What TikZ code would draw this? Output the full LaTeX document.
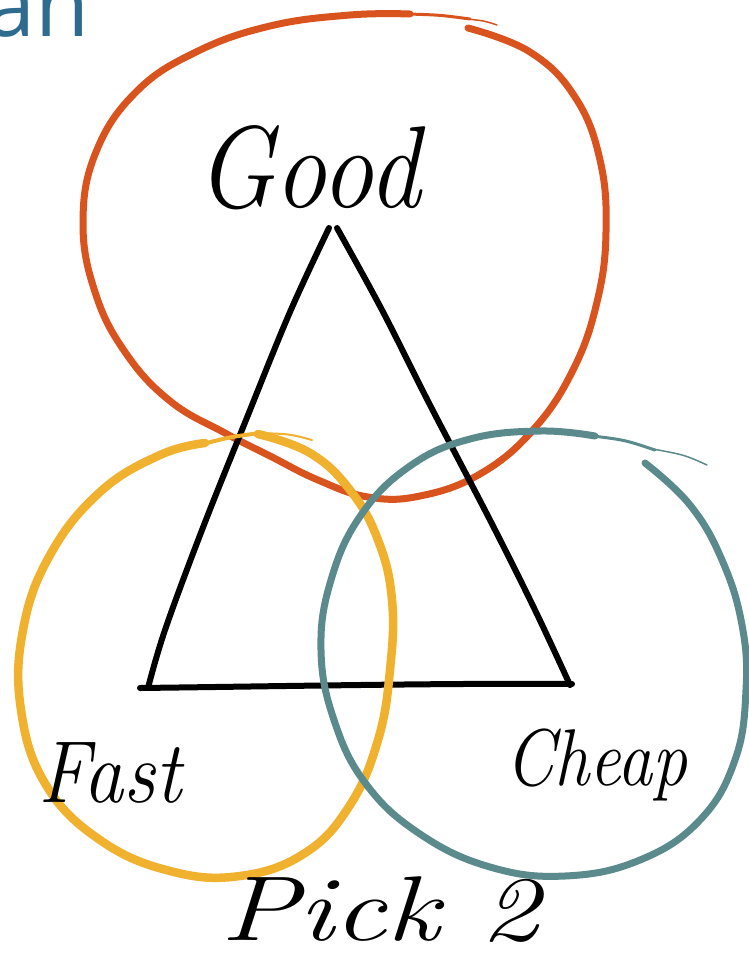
\documentclass[tikz,border=0pt]{standalone}
\usepackage{fontspec}
\newfontfamily\osans{Open Sans}
\definecolor{cgood}{HTML}{D9531E}
\definecolor{cfast}{HTML}{F0B22E}
\definecolor{ccheap}{HTML}{5B8A8D}
\definecolor{ctitle}{HTML}{2E6B8E}
\tikzset{
  ring/.style={line width=7pt, line cap=round, line join=round},
  ringtail/.style={line width=3pt, line cap=round, line join=round},
  ringtip/.style={line width=1.5pt, line cap=round},
  tri/.style={line width=6pt, line cap=round, line join=round, black},
  hand/.style={font=\itshape, inner sep=0pt, anchor=base west, black},
}
\begin{document}
\begin{tikzpicture}[x=1pt,y=-1pt]
\useasboundingbox (0,0) rectangle (749,967);
\clip (0,0) rectangle (749,967);
\fill[white] (0,0) rectangle (749,967);

% title fragment
\node[anchor=base east, inner sep=0pt, text=ctitle, font=\osans\fontsize{88}{88}\selectfont] (title) at (90,36) {an};

% orange ring (Good)
\draw[ring, cgood] plot[smooth, tension=0.7] coordinates {
 (468,28) (530,52) (575,97) (600,160) (606,232) (597,302) (573,370)
 (533,430) (480,474) (420,496) (368,497) (318,480) (270,456) (225,433)
 (170,401) (125,352) (95,292) (83,222) (96,152) (136,92) (196,52)
 (270,26) (350,15) (410,14)};
\draw[ringtail, cgood] (408,14) .. controls (440,15) .. (470,19);
\draw[ringtip, cgood] (468,19) .. controls (485,21) .. (497,25);

% triangle
\coordinate (apexL) at (329,228);
\coordinate (apexR) at (337,228);
\coordinate (baseL) at (145,688);
\coordinate (baseR) at (572,684);
\draw[tri] plot[smooth, tension=0.6] coordinates {(apexL) (290,312) (246,420) (202,530) (165,630) (148,688)};
\draw[tri] plot[smooth, tension=0.6] coordinates {(apexR) (382,310) (430,405) (490,520) (535,610) (570,685)};
\draw[tri] (140,688) .. controls (300,686) and (450,683) .. (baseR);

% yellow ring (Fast)
\draw[ring, cfast, line width=8.5pt] plot[smooth, tension=0.7] coordinates {
 (258,434) (310,453) (350,490) (378,540) (392,600) (390,670) (378,740)
 (350,805) (305,853) (240,876) (170,871) (100,840) (46,785) (21,710)
 (23,630) (50,555) (100,492) (160,455) (205,443)};
\draw[ringtail, cfast, line width=4pt] (203,444) .. controls (230,437) .. (260,433);
\draw[ringtip, cfast, line width=2pt] (258,433) .. controls (290,434) .. (312,440);

% teal ring (Cheap)
\draw[ring, ccheap] plot[smooth, tension=0.7] coordinates {
 (645,463) (690,505) (722,560) (742,625) (746,690) (735,760) (700,820)
 (640,860) (565,876) (490,867) (420,834) (366,784) (334,720) (321,650)
 (331,580) (361,515) (410,466) (470,439) (540,431) (595,436)};
\draw[ringtail, ccheap] (593,436) .. controls (625,440) .. (655,450);
\draw[ringtip, ccheap] (653,449) .. controls (685,455) .. (707,465);

% handwritten labels
\node[hand, font=\itshape\fontsize{104}{104}\selectfont, yscale=1.12] (good) at (196,207) {Good};
\node[hand, font=\itshape\fontsize{80}{80}\selectfont, yscale=1.1] (fast) at (38,802) {Fast};
\node[hand, font=\itshape\fontsize{70}{70}\selectfont, yscale=1.15] (cheap) at (505,785) {Cheap};
\node[hand, font=\itshape\fontsize{92}{92}\selectfont, xscale=1.28] (pick) at (220,940) {Pick 2};
\end{tikzpicture}
\end{document}
